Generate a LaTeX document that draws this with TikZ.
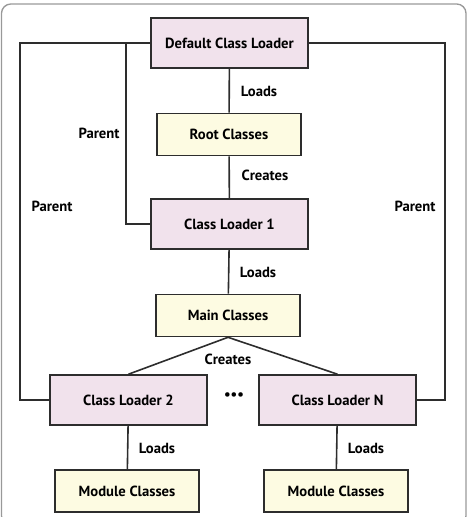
\documentclass[tikz,border=0pt]{standalone}
\usepackage{fontspec}
\setmainfont{PT Sans}
\usetikzlibrary{positioning}

\definecolor{loaderpink}{RGB}{241,226,236}
\definecolor{classyellow}{RGB}{253,251,226}
\definecolor{edgegray}{RGB}{45,45,45}

\tikzset{
  loader/.style={draw=edgegray, line width=1.2pt, fill=loaderpink, minimum width=117.75pt, minimum height=37.5pt, inner sep=0pt, font=\bfseries\fontsize{11}{13}\selectfont},
  classes/.style={draw=edgegray, line width=1.2pt, fill=classyellow, minimum width=108pt, minimum height=31.5pt, inner sep=0pt, font=\bfseries\fontsize{11}{13}\selectfont},
  lbl/.style={font=\bfseries\fontsize{11}{13}\selectfont, inner sep=1pt},
  link/.style={draw=edgegray, line width=1.2pt}
}

\begin{document}
\begin{tikzpicture}[x=0.75pt, y=-0.75pt]
\useasboundingbox (0,0) rectangle (469,517);
% frame
\draw[gray!80, line width=1pt, rounded corners=7] (1.5,4) -- (1.5,525) -- (466,525) -- (466,4) -- cycle;

% boxes
\node[loader]  (dcl)  at (229.5,43)  {Default Class Loader};
\node[classes] (root) at (229,134.5)   {Root Classes};
\node[loader]  (cl1)  at (229.5,224) {Class Loader 1};
\node[classes] (main) at (228,315.5)   {Main Classes};
\node[loader]  (cl2)  at (128.5,400) {Class Loader 2};
\node[loader]  (cln)  at (337.5,400) {Class Loader N};
\node[classes] (modl) at (127,491)   {Module Classes};
\node[classes] (modr) at (336,491)   {Module Classes};
\node[lbl] (dots) at (234,396) {\textbullet\textbullet\textbullet};

% edges
\coordinate (outerL) at (20,0);
\coordinate (innerL) at (126,0);
\coordinate (outerR) at (445,0);
\draw[link] (dcl) -- (root);
\draw[link] (root) -- (cl1);
\draw[link] (cl1) -- (main);
\draw[link] (main.south) -- (cl2.north);
\draw[link] (main.south) -- (cln.north);
\draw[link] (cl2) -- (modl);
\draw[link] (cln) -- (modr);
\draw[link] (dcl.west) -| (outerL |- cl2.west) -- (cl2.west);
\draw[link] (dcl.west -| innerL) |- (cl1.west);
\draw[link] (dcl.east) -| (outerR |- cln.east) -- (cln.east);

% labels
\node[lbl] at (259,91)  {Loads};
\node[lbl] at (265,175) {Creates};
\node[lbl] at (258,272) {Loads};
\node[lbl] at (228,359) {Creates};
\node[lbl] at (157,448) {Loads};
\node[lbl] at (366,448) {Loads};
\node[lbl] at (99,133)  {Parent};
\node[lbl] at (52,206)  {Parent};
\node[lbl] at (415,206) {Parent};
\end{tikzpicture}
\end{document}
